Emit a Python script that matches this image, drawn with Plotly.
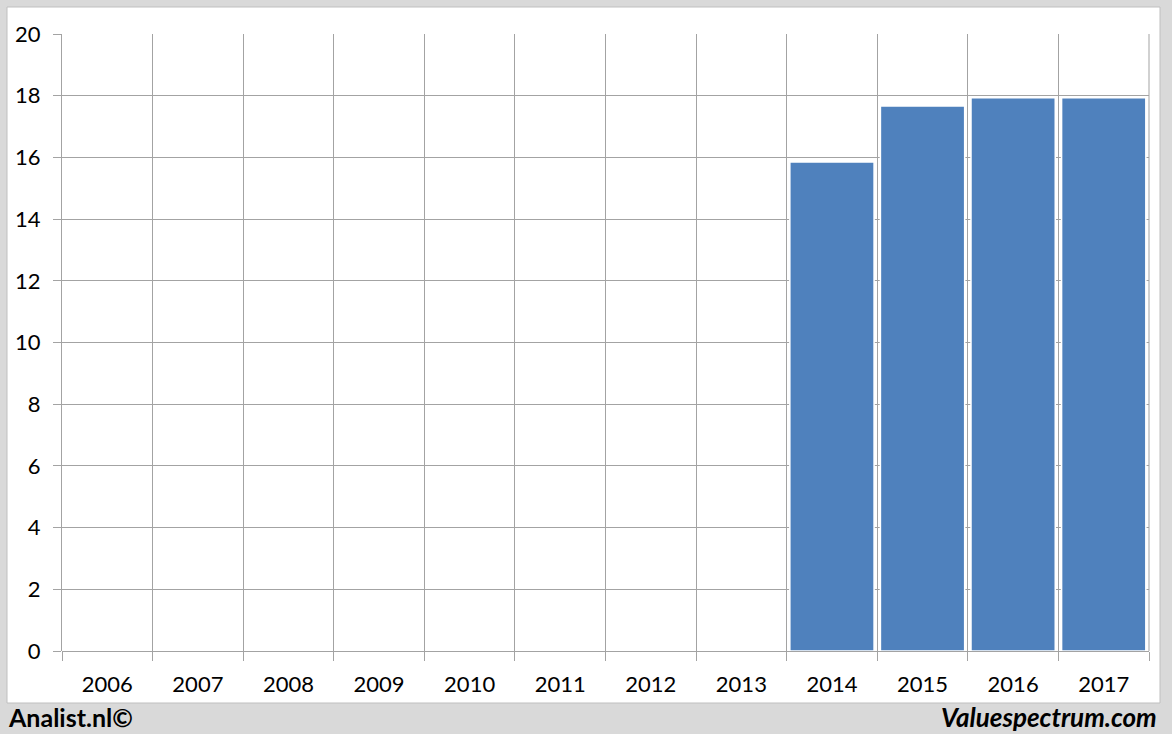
import plotly.graph_objects as go

years = ["2006", "2007", "2008", "2009", "2010", "2011", "2012", "2013", "2014", "2015", "2016", "2017"]
values = [None, None, None, None, None, None, None, None, 15.85, 17.67, 17.93, 17.93]
y_ticks = [0, 2, 4, 6, 8, 10, 12, 14, 16, 18, 20]

W, H = 1172, 734
L, R, T, B = 62, 1149, 34, 651

fig = go.Figure()
fig.add_trace(go.Bar(
    x=years, y=values,
    marker=dict(color="#4f81bd", line=dict(color="white", width=1.5)),
    hoverinfo="x+y",
))

def px_x(x):
    return (x - L) / (R - L)

def px_y(y):
    return (B - y) / (B - T)

grid = "#a3a3a3"
font = "Lato, 'Open Sans', sans-serif"

fig.update_layout(
    width=W, height=H,
    margin=dict(l=L, r=W - R, t=T, b=H - B, autoexpand=False),
    paper_bgcolor="#d9d9d9",
    plot_bgcolor="white",
    bargap=0.07,
    showlegend=False,
    font=dict(family=font, size=21, color="black"),
    xaxis=dict(
        type="category",
        tickson="boundaries",
        showgrid=True, gridcolor=grid, gridwidth=1,
        ticks="outside", ticklen=9, tickcolor=grid,
        ticklabelstandoff=18,
        showline=False,
        tickfont=dict(size=22, color="black", family=font),
        range=[-0.5, 11.5],
        fixedrange=True,
    ),
    yaxis=dict(
        range=[0, 20],
        tickvals=y_ticks,
        showgrid=True, gridcolor=grid, gridwidth=1,
        zeroline=True, zerolinecolor=grid, zerolinewidth=1,
        ticks="outside", ticklen=8, tickcolor=grid,
        ticklabelstandoff=8,
        showline=True, linecolor=grid, linewidth=1,
        tickfont=dict(size=22, color="black", family=font),
        fixedrange=True,
    ),
    shapes=[
        dict(type="rect", xref="paper", yref="paper", layer="below",
             x0=px_x(7), x1=px_x(1160), y0=px_y(703), y1=px_y(7),
             fillcolor="white", line=dict(color="#bfbfbf", width=1)),
        dict(type="line", xref="paper", yref="paper", layer="above",
             x0=1, x1=1, y0=0, y1=1, line=dict(color=grid, width=1)),
    ],
    annotations=[
        dict(text="<b>Analist.nl©</b>", xref="paper", yref="paper",
             x=px_x(6), y=px_y(717), xanchor="left", yanchor="middle",
             showarrow=False, font=dict(size=25, color="black", family=font)),
        dict(text="<b><i>Valuespectrum.com</i></b>", xref="paper", yref="paper",
             x=px_x(1159), y=px_y(717), xanchor="right", yanchor="middle",
             showarrow=False, font=dict(size=26, color="black", family=font)),
    ],
)

fig.write_html("out.html", config={"displayModeBar": False},
               post_script="document.body.style.margin='0';")
